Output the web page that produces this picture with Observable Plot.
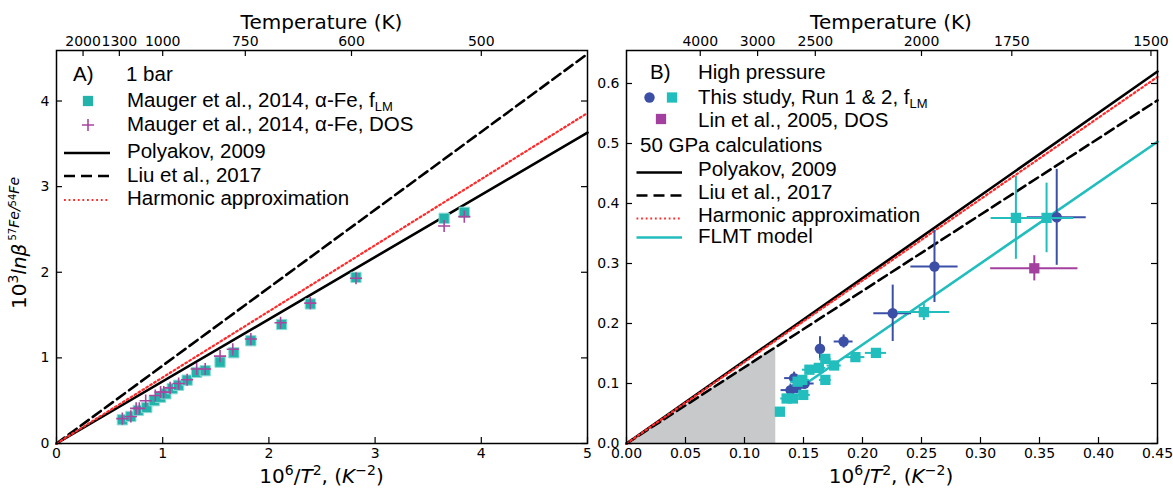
<!DOCTYPE html>
<html><head><meta charset="utf-8">
<script src="https://cdn.jsdelivr.net/npm/d3@7"></script>
<script src="https://cdn.jsdelivr.net/npm/@observablehq/plot@0.6"></script>
<style>
body{margin:0;background:#fff;}
#wrap{display:flex;width:1173px;height:490px;}
#wrap svg{overflow:visible;display:block}
</style></head><body><div id="wrap"></div>
<script>
// ---------- Panel A data (1 bar) ----------
const maugerFlmX = [0.62,0.70,0.77,0.85,0.92,0.98,1.03,1.09,1.15,1.23,1.32,1.40,1.54,1.67,1.83,2.12,2.39,2.82,3.65,3.84];
const maugerFlmY = [0.277,0.316,0.386,0.42,0.50,0.54,0.58,0.64,0.68,0.74,0.83,0.85,0.95,1.06,1.20,1.39,1.63,1.94,2.63,2.70];
const maugerDosX = [0.62,0.70,0.75,0.78,0.84,0.93,0.98,1.01,1.07,1.15,1.23,1.32,1.40,1.54,1.66,1.83,2.11,2.39,2.82,3.65,3.84];
const maugerDosY = [0.29,0.316,0.41,0.41,0.50,0.56,0.60,0.60,0.65,0.70,0.745,0.87,0.87,1.02,1.10,1.22,1.41,1.64,1.93,2.54,2.65];
const lineAX = [0, 5];
const polyakovA = [0, 3.63];
const liuA = [0, 4.55];
const harmonicA = [0, 3.86];
const xTicksA = [0,1,2,3,4,5];
const yTicksA = [0,1,2,3,4];
const tempTicksA = [2000,1300,1000,750,600,500];

// ---------- Panel B data (high pressure) ----------
const run1X  = [0.139,0.142,0.144,0.151,0.164,0.184,0.2256,0.261,0.3646];
const run1Y  = [0.089,0.109,0.093,0.100,0.158,0.170,0.217,0.295,0.377];
const run1Ex = [0.008,0.008,0.007,0.008,0.004,0.008,0.016,0.020,0.025];
const run1Ey = [0.010,0.010,0.010,0.010,0.020,0.011,0.047,0.060,0.080];
const run2X  = [0.130,0.1357,0.141,0.1498,0.145,0.149,0.155,0.163,0.1685,0.1685,0.176,0.194,0.2114,0.252,0.330,0.356];
const run2Y  = [0.053,0.075,0.075,0.081,0.103,0.106,0.123,0.126,0.141,0.106,0.130,0.144,0.151,0.219,0.376,0.376];
const run2Ex = [0.003,0.005,0.005,0.006,0.006,0.006,0.006,0.006,0.005,0.005,0.006,0.008,0.009,0.022,0.021,0.023];
const run2Ey = [0.004,0.006,0.006,0.006,0.006,0.006,0.006,0.006,0.007,0.007,0.007,0.006,0.006,0.014,0.069,0.058];
const linX = [0.3456], linY = [0.292], linEx = [0.037], linEy = [0.021];
const lineBX = [0, 0.45];
const polyakovB = [0, 0.620];
const liuB = [0, 0.572];
const harmonicB = [0, 0.611];
const flmtX = [0.15, 0.45];
const flmtY = [0.097, 0.503];
const greyX = [0, 0.1265];
const greyY = [0, 0.161];
const xTicksB = [0,0.05,0.10,0.15,0.20,0.25,0.30,0.35,0.40,0.45];
const yTicksB = [0,0.1,0.2,0.3,0.4,0.5,0.6];
const tempTicksB = [4000,3000,2500,2000,1750,1500];

// ---------- styles ----------
const TEAL_A = "#22b3ab", TEAL = "#22bdbd", BLUE = "#3b4fa6", PURPLE = "#a3409f", PLUS = "#a8479f", RED = "#ff2a2a";
const DOTS = "1.8,2.8";
const LEG_FONT = "'Liberation Sans', Arial, sans-serif";
const AX_FONT = "'DejaVu Sans', sans-serif";
const H = 490, mT = 50, mB = 47;
const innerH = H - mT - mB;
const innerW = 531;

const zip = (xs, ys) => xs.map((x, i) => ({x, y: ys[i]}));
const errs = (xs, ys, ex, ey) => xs.map((x, i) => ({x, y: ys[i], ex: ex[i], ey: ey[i]}));
const tFromX = d => String(Math.round(1000 / Math.sqrt(d) / 50) * 50);

function frameTicks(xt, yt, topT) {
  return [
    Plot.tickX(xt, {x: d => d, insetTop: innerH - 6, stroke: "black", strokeWidth: 1.2}),
    Plot.tickX(topT, {x: d => d, insetBottom: innerH - 6, stroke: "black", strokeWidth: 1.2}),
    Plot.tickY(yt, {y: d => d, insetRight: innerW - 6, stroke: "black", strokeWidth: 1.2}),
    Plot.tickY(yt, {y: d => d, insetLeft: innerW - 6, stroke: "black", strokeWidth: 1.2}),
    Plot.frame({stroke: "black", strokeWidth: 1.5})
  ];
}

const topA = tempTicksA.map(t => 1e6 / (t * t));
const topB = tempTicksB.map(t => 1e6 / (t * t));

const A = Plot.plot({
  width: 600, height: H, marginLeft: 56, marginRight: 13, marginTop: mT, marginBottom: mB,
  style: {fontFamily: AX_FONT, fontSize: "14px", color: "black", background: "transparent", overflow: "visible"},
  x: {domain: [0, 5]}, y: {domain: [0, 4.59]},
  marks: [
    Plot.axisX({ticks: xTicksA, tickSize: 0, tickPadding: 5, tickFormat: d3.format("d"), label: null}),
    Plot.axisX({anchor: "top", ticks: topA, tickSize: 0, tickPadding: 5, tickFormat: tFromX, label: null}),
    Plot.axisY({ticks: yTicksA, tickSize: 0, tickPadding: 7, tickFormat: d3.format("d"), label: null}),
    Plot.line(zip(lineAX, polyakovA), {x: "x", y: "y", stroke: "black", strokeWidth: 2.6}),
    Plot.line(zip(lineAX, liuA), {x: "x", y: "y", stroke: "black", strokeWidth: 2.6, strokeDasharray: "10,5"}),
    Plot.line(zip(lineAX, harmonicA), {x: "x", y: "y", stroke: RED, strokeWidth: 2.2, strokeDasharray: DOTS}),
    Plot.dot(zip(maugerFlmX, maugerFlmY), {x: "x", y: "y", symbol: "square", r: 5.8, fill: TEAL_A, stroke: "#8fdcd6", strokeWidth: 1}),
    Plot.dot(zip(maugerDosX, maugerDosY), {x: "x", y: "y", symbol: "plus", r: 4, stroke: PLUS, strokeWidth: 1.6}),
    ...frameTicks(xTicksA, yTicksA, topA)
  ]
});

const B = Plot.plot({
  width: 573, height: H, marginLeft: 26, marginRight: 16, marginTop: mT, marginBottom: mB,
  style: {fontFamily: AX_FONT, fontSize: "14px", color: "black", background: "transparent", overflow: "visible"},
  x: {domain: [0, 0.45]}, y: {domain: [0, 0.655]},
  marks: [
    Plot.areaY(zip(greyX, greyY), {x: "x", y: "y", fill: "#c8c9cb"}),
    Plot.axisX({ticks: xTicksB, tickSize: 0, tickPadding: 5, tickFormat: d3.format(".2f"), label: null}),
    Plot.axisX({anchor: "top", ticks: topB, tickSize: 0, tickPadding: 5, tickFormat: tFromX, label: null}),
    Plot.axisY({ticks: yTicksB, tickSize: 0, tickPadding: 7, tickFormat: d3.format(".1f"), label: null}),
    Plot.line(zip(lineBX, polyakovB), {x: "x", y: "y", stroke: "black", strokeWidth: 2.6}),
    Plot.line(zip(lineBX, liuB), {x: "x", y: "y", stroke: "black", strokeWidth: 2.6, strokeDasharray: "10,5"}),
    Plot.line(zip(lineBX, harmonicB), {x: "x", y: "y", stroke: RED, strokeWidth: 2.2, strokeDasharray: DOTS}),
    Plot.line(zip(flmtX, flmtY), {x: "x", y: "y", stroke: TEAL, strokeWidth: 2.6}),
    // Run 1 (blue circles)
    Plot.ruleY(errs(run1X, run1Y, run1Ex, run1Ey), {y: "y", x1: d => d.x - d.ex, x2: d => d.x + d.ex, stroke: BLUE, strokeWidth: 2}),
    Plot.ruleX(errs(run1X, run1Y, run1Ex, run1Ey), {x: "x", y1: d => d.y - d.ey, y2: d => d.y + d.ey, stroke: BLUE, strokeWidth: 2}),
    Plot.dot(zip(run1X, run1Y), {x: "x", y: "y", r: 5.2, fill: BLUE}),
    // Lin et al. 2005
    Plot.ruleY(errs(linX, linY, linEx, linEy), {y: "y", x1: d => d.x - d.ex, x2: d => d.x + d.ex, stroke: PURPLE, strokeWidth: 2}),
    Plot.ruleX(errs(linX, linY, linEx, linEy), {x: "x", y1: d => d.y - d.ey, y2: d => d.y + d.ey, stroke: PURPLE, strokeWidth: 2}),
    Plot.dot(zip(linX, linY), {x: "x", y: "y", symbol: "square", r: 5.8, fill: PURPLE}),
    // Run 2 (cyan squares)
    Plot.ruleY(errs(run2X, run2Y, run2Ex, run2Ey), {y: "y", x1: d => d.x - d.ex, x2: d => d.x + d.ex, stroke: TEAL, strokeWidth: 2}),
    Plot.ruleX(errs(run2X, run2Y, run2Ex, run2Ey), {x: "x", y1: d => d.y - d.ey, y2: d => d.y + d.ey, stroke: TEAL, strokeWidth: 2}),
    Plot.dot(zip(run2X, run2Y), {x: "x", y: "y", symbol: "square", r: 5.8, fill: TEAL}),
    ...frameTicks(xTicksB, yTicksB, topB)
  ]
});

document.getElementById("wrap").append(A, B);

// ---------- text helpers ----------
function addText(svg, x, y, parts, opts = {}) {
  const t = d3.select(svg).append("text").attr("x", x).attr("y", y)
    .attr("font-family", opts.family || LEG_FONT)
    .attr("font-size", opts.size || 20.5).attr("fill", "black")
    .attr("text-anchor", opts.anchor || "start");
  if (opts.rotate) t.attr("transform", `rotate(-90 ${x} ${y})`);
  for (const p of parts) {
    const s = t.append("tspan");
    if (typeof p === "string") { s.text(p); continue; }
    s.text(p.t);
    if (p.dy) s.attr("dy", p.dy);
    if (p.size) s.attr("font-size", p.size);
    if (p.italic) s.attr("font-style", "italic");
  }
  return t;
}
function legLine(svg, x1, x2, y, stroke, w, dash) {
  const l = d3.select(svg).append("line").attr("x1", x1).attr("x2", x2).attr("y1", y).attr("y2", y)
    .attr("stroke", stroke).attr("stroke-width", w);
  if (dash) l.attr("stroke-dasharray", dash);
}
function legSym(svg, x, y, type, r, fill, stroke, sw) {
  d3.select(svg).append("path").attr("transform", `translate(${x},${y})`)
    .attr("d", d3.symbol(type, Math.PI * r * r)())
    .attr("fill", fill || "none").attr("stroke", stroke || "none").attr("stroke-width", sw || 0);
}

// axis titles
for (const [svg, cx] of [[A, 321.5], [B, 291]]) {
  addText(svg, cx, 29, ["Temperature (K)"], {family: AX_FONT, size: 20, anchor: "middle"});
  addText(svg, cx, 483, ["10", {t: "6", dy: -8, size: 14}, {t: "/", dy: 8, size: 20}, {t: "T", italic: true},
    {t: "2", dy: -8, size: 14}, {t: ", (", dy: 8, size: 20}, {t: "K", italic: true}, {t: "\u22122", dy: -8, size: 14}, {t: ")", dy: 8, size: 20}],
    {family: AX_FONT, size: 20, anchor: "middle"});
}
addText(A, 26, 243, ["10", {t: "3", dy: -8, size: 14}, {t: "ln\u03b2", dy: 8, size: 20, italic: true},
  {t: " 57", dy: -10, size: 10}, {t: "Fe/", dy: 3, size: 14, italic: true}, {t: "54", dy: -3, size: 10}, {t: "Fe", dy: 3, size: 14, italic: true}],
  {family: AX_FONT, size: 20, anchor: "middle", rotate: true});

// ---------- legend A ----------
addText(A, 73, 81, ["A)"]);
addText(A, 126, 81, ["1 bar"]);
legSym(A, 88, 101, d3.symbolSquare, 5.8, TEAL_A);
addText(A, 127, 107, ["Mauger et al., 2014, \u03b1-Fe, f", {t: "LM", dy: 4, size: 13}]);
legSym(A, 88, 125, d3.symbolPlus, 4, null, PLUS, 1.6);
addText(A, 127, 131, ["Mauger et al., 2014, \u03b1-Fe, DOS"]);
legLine(A, 64, 110, 153, "black", 2.6);
addText(A, 127, 158, ["Polyakov, 2009"]);
legLine(A, 64, 110, 176, "black", 2.6, "11,6");
addText(A, 127, 182, ["Liu et al., 2017"]);
legLine(A, 64, 110, 200, RED, 2.2, DOTS);
addText(A, 127, 205, ["Harmonic approximation"]);

// ---------- legend B ----------
addText(B, 50, 79, ["B)"]);
addText(B, 98, 79, ["High pressure"]);
legSym(B, 49.5, 97.5, d3.symbolCircle, 5.2, BLUE);
legSym(B, 72, 97.5, d3.symbolSquare, 5.8, TEAL);
addText(B, 98, 104, ["This study, Run 1 & 2, f", {t: "LM", dy: 4, size: 13}]);
legSym(B, 61, 119, d3.symbolSquare, 5.8, PURPLE);
addText(B, 98, 126.5, ["Lin et al., 2005, DOS"]);
addText(B, 40, 151.5, ["50 GPa calculations"]);
legLine(B, 36.5, 82, 172.5, "black", 2.6);
addText(B, 98, 176, ["Polyakov, 2009"]);
legLine(B, 36.5, 82, 195.5, "black", 2.6, "11,6");
addText(B, 98, 199, ["Liu et al., 2017"]);
legLine(B, 36.5, 82, 218.5, RED, 2.2, DOTS);
addText(B, 98, 221.5, ["Harmonic approximation"]);
legLine(B, 36.5, 82, 237.5, TEAL, 2.6);
addText(B, 98, 242.5, ["FLMT model"]);
</script>
</body></html>
